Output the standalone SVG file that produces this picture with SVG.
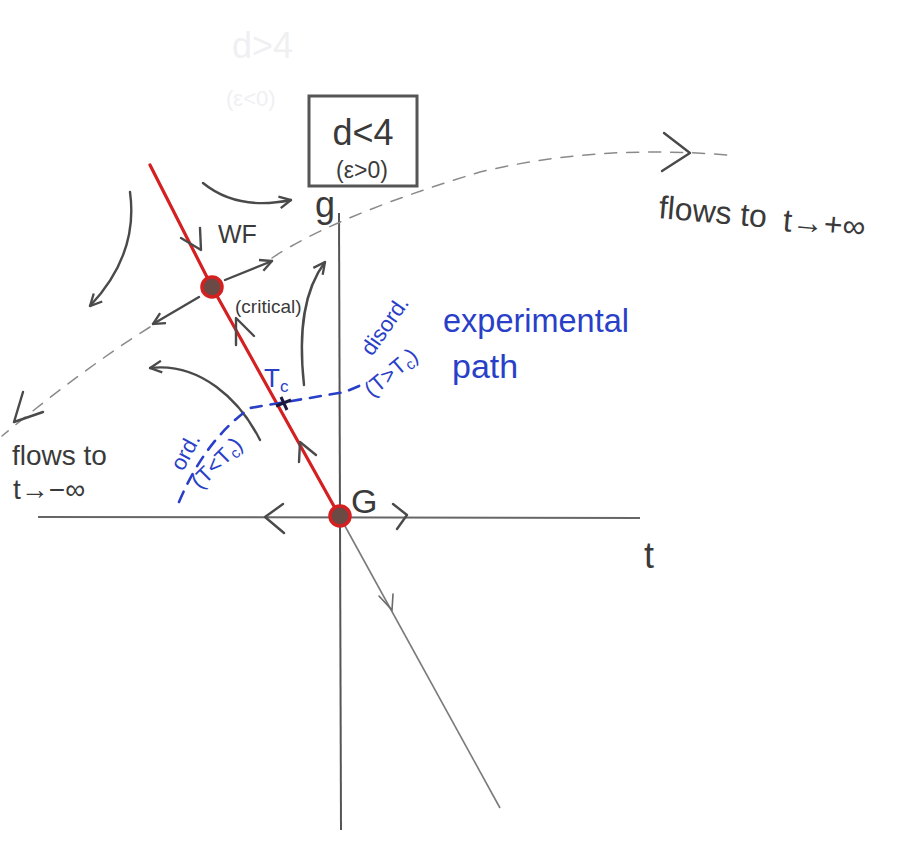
<svg xmlns="http://www.w3.org/2000/svg" width="899" height="843" viewBox="0 0 899 843">
<style>
.pen{fill:none;stroke:#4a4a4a;stroke-width:2.4;stroke-linecap:round;stroke-linejoin:round}
.thin{fill:none;stroke:#6a6a6a;stroke-width:1.6;stroke-linecap:round}
.dash{fill:none;stroke:#8a8a8a;stroke-width:1.5;stroke-dasharray:12 10;stroke-linecap:round}
.blued{fill:none;stroke:#2a3fc8;stroke-width:2.6;stroke-dasharray:11 9;stroke-linecap:round}
.txt{font-family:"Liberation Sans","DejaVu Sans",sans-serif;fill:#3a3a3a}
.blue{font-family:"Liberation Sans","DejaVu Sans",sans-serif;fill:#2a3fc8}
.ghost{font-family:"Liberation Sans",sans-serif;fill:#f0f0f3}
.fp{fill:#6b4a45;stroke:#d42020;stroke-width:3.5}
</style>
<defs>
<marker id="ah" viewBox="0 0 12 12" refX="11" refY="6" markerWidth="14" markerHeight="14" markerUnits="userSpaceOnUse" orient="auto">
<path d="M1,1 L11,6 L1,11" fill="none" stroke="#4a4a4a" stroke-width="2"/>
</marker>
</defs>
<rect width="899" height="843" fill="#ffffff"/>
<g id="ghost">
<text class="ghost" x="232" y="58" font-size="36">d&gt;4</text>
<text class="ghost" x="226" y="106" font-size="22">(ε&lt;0)</text>
</g>
<g id="axes">
<line x1="339" y1="213" x2="341" y2="830" stroke="#555" stroke-width="2"/>
<line x1="38" y1="517" x2="640" y2="518" stroke="#666" stroke-width="2"/>
<text class="txt" x="315" y="217" font-size="36">g</text>
<text class="txt" x="644" y="568" font-size="36">t</text>
</g>
<g id="box">
<rect x="309" y="96" width="108" height="90" fill="none" stroke="#555" stroke-width="3"/>
<text class="txt" x="363" y="145" font-size="36" text-anchor="middle">d&lt;4</text>
<text class="txt" x="362" y="178" font-size="23" text-anchor="middle">(ε&gt;0)</text>
</g>
<g id="connectors">
<path class="dash" d="M272,258 C320,226 400,196 480,172 C560,153 640,148 727,155"/>
<path class="pen" d="M664,133 L690,153 L662,171"/>
<path class="dash" d="M150,327 C110,352 60,388 2,436"/>
<path class="pen" d="M23,392 L14,422 L43,412"/>
<line x1="340" y1="517" x2="500" y2="808" stroke="#7a7a7a" stroke-width="1.6"/>
<path class="thin" d="M379,596 L392,610 L393,594"/>
<polyline points="150,165 212,287 340,517" fill="none" stroke="#d42020" stroke-width="3.2" stroke-linecap="round"/>
<line x1="225" y1="280" x2="272" y2="261" class="pen" marker-end="url(#ah)"/>
<line x1="199" y1="297" x2="153" y2="324" class="pen" marker-end="url(#ah)"/>
<path class="pen" d="M181,238 L201,250 L200,228"/>
<path class="pen" d="M236,345 L236,318 L254,336"/>
<path class="pen" d="M299,462 L300,442 L316,455"/>
<path class="pen" d="M283,504 L265,517 L284,533"/>
<path class="pen" d="M393,504 L407,515 L397,529"/>
<path class="pen" d="M203,183 C230,205 262,206 291,200" marker-end="url(#ah)"/>
<path class="pen" d="M130,192 C136,235 122,272 90,306" marker-end="url(#ah)"/>
<path class="pen" d="M304,385 C298,330 304,290 325,262" marker-end="url(#ah)"/>
<path class="pen" d="M260,440 C240,400 200,362 150,368" marker-end="url(#ah)"/>
<path class="blued" d="M179,502 Q205,440 250,408 L345,392 L366,383"/>
<path d="M276,406 L291,400 M281,397 L287,410" stroke="#1a1a40" stroke-width="3" fill="none"/>
</g>
<g id="WF">
<circle class="fp" cx="212" cy="287" r="10"/>
<text class="txt" x="218" y="243" font-size="25">WF</text>
<text class="txt" x="235" y="313" font-size="19">(critical)</text>
</g>
<g id="G">
<circle class="fp" cx="340" cy="516" r="10"/>
<text class="txt" x="351" y="513" font-size="34">G</text>
</g>
<g id="labels">
<text class="txt" transform="rotate(5 658 218)" x="658" y="218" font-size="32">flows to</text>
<text class="txt" transform="rotate(5 658 218)" x="783" y="220" font-size="32">t→+∞</text>
<text class="txt" x="12" y="465" font-size="28">flows to</text>
<text class="txt" x="13" y="499" font-size="28">t→−∞</text>
<text class="blue" x="443" y="332" font-size="34" textLength="186" lengthAdjust="spacingAndGlyphs">experimental</text>
<text class="blue" x="452" y="378" font-size="34">path</text>
<text class="blue" transform="translate(372,357) rotate(-55)" font-size="22">disord.</text>
<text class="blue" transform="translate(372,398) rotate(-40)" font-size="22">(T&gt;T<tspan font-size="15" dy="4">c</tspan><tspan dy="-4">)</tspan></text>
<text class="blue" x="264" y="387" font-size="26">T<tspan font-size="17" dy="5">c</tspan></text>
<text class="blue" transform="translate(183,472) rotate(-62)" font-size="22">ord.</text>
<text class="blue" transform="translate(200,490) rotate(-45)" font-size="22">(T&lt;T<tspan font-size="15" dy="4">c</tspan><tspan dy="-4">)</tspan></text>
</g>
</svg>
